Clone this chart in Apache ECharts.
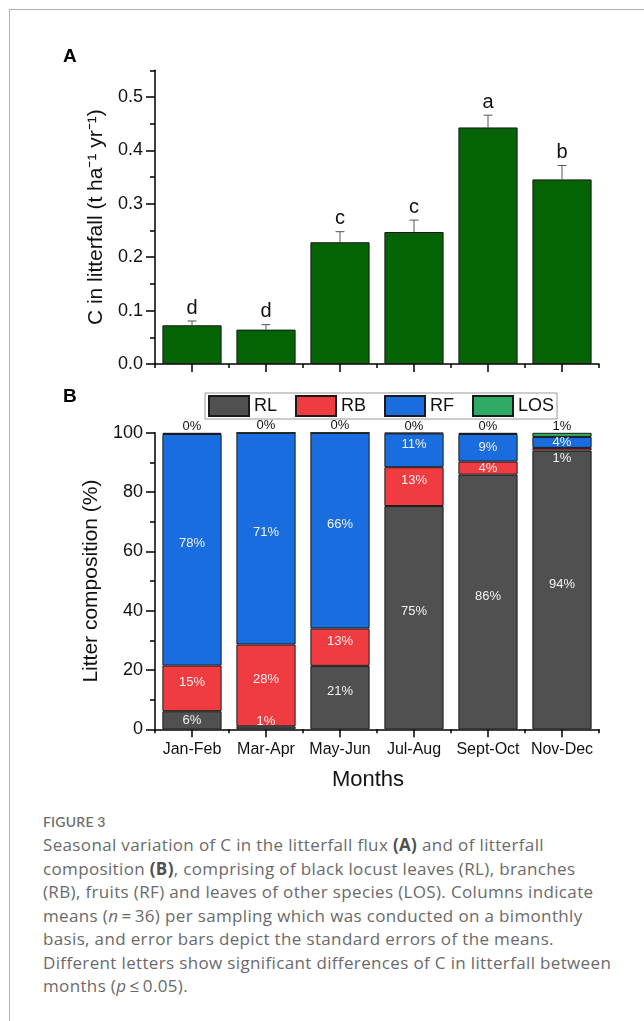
<!DOCTYPE html>
<html>
<head>
<meta charset="utf-8">
<script src="https://cdn.jsdelivr.net/npm/echarts@6/dist/echarts.min.js"></script>
<style>
  html, body { margin:0; padding:0; background:#fff; width:644px; height:1021px; overflow:hidden; }
  #frame { position:absolute; left:9px; top:9px; width:800px; height:1200px; border-left:1px solid #b0b0b0; border-top:1px solid #b0b0b0; }
  #chart { position:absolute; left:0; top:0; width:644px; height:800px; }
  #figlabel { position:absolute; left:43px; top:812px; font-family:Lato, "Open Sans", sans-serif; font-size:14px; line-height:20px; color:#707070; font-weight:600; letter-spacing:0.2px; }
  #caption { position:absolute; left:43px; top:833px; font-family:"Open Sans", Lato, sans-serif; font-size:17px; line-height:23.5px; color:#6a6a6a; white-space:nowrap; letter-spacing:0.35px; }
  #caption b { color:#505050; }
</style>
</head>
<body>
<div id="frame"></div>
<div id="chart"></div>
<div id="figlabel">FIGURE 3</div>
<div id="caption">
Seasonal variation of C in the litterfall flux <b>(A)</b> and of litterfall<br>
composition <b>(B)</b>, comprising of black locust leaves (RL), branches<br>
(RB), fruits (RF) and leaves of other species (LOS). Columns indicate<br>
means (<i>n</i>&#8201;=&#8201;36) per sampling which was conducted on a bimonthly<br>
basis, and error bars depict the standard errors of the means.<br>
Different letters show significant differences of C in litterfall between<br>
months (<i>p</i>&#8201;≤&#8201;0.05).
</div>
<script>
const categories = ['Jan-Feb', 'Mar-Apr', 'May-Jun', 'Jul-Aug', 'Sept-Oct', 'Nov-Dec'];
const carbonMean = [0.0725, 0.0644, 0.228, 0.2472, 0.443, 0.3457];
const carbonSE = [0.008, 0.0093, 0.0198, 0.0223, 0.0229, 0.026];
const sigLetters = ['d', 'd', 'c', 'c', 'a', 'b'];
const shareRL = [6.1, 1.0, 21.4, 75.3, 85.9, 94.0];
const shareRB = [15.4, 27.6, 12.6, 13.1, 4.4, 0.9];
const shareRF = [78.1, 71.4, 66.0, 11.4, 9.3, 3.7];
const shareLOS = [0.4, 0, 0, 0.2, 0.4, 1.4];
const yTicksA = [0, 0.1, 0.2, 0.3, 0.4, 0.5];
const yMinorTicksA = [0.05, 0.15, 0.25, 0.35, 0.45, 0.55];

const FONT = '"Liberation Sans", Arial, sans-serif';
const chart = echarts.init(document.getElementById('chart'), null, { renderer: 'canvas' });

const axisLine = { show: true, lineStyle: { color: '#000', width: 1.5 } };
const tickStyle = { color: '#000', width: 1.5 };

function majorX(grid, showLabels) {
  const ax = {
    type: 'category', gridIndex: grid, data: categories, position: 'bottom',
    axisLine: axisLine,
    axisTick: { show: true, alignWithLabel: true, length: 8, lineStyle: tickStyle },
    axisLabel: { show: showLabels, interval: 0, margin: 12, fontSize: 16, color: '#111', fontFamily: FONT },
    splitLine: { show: false }
  };
  if (showLabels) {
    ax.name = 'Months';
    ax.nameLocation = 'middle';
    ax.nameGap = 40;
    ax.nameTextStyle = { fontSize: 22, color: '#111', fontFamily: FONT, padding: [0, 18, 0, 0] };
  }
  return ax;
}
function minorX(grid) {
  return {
    type: 'category', gridIndex: grid, data: categories, position: 'bottom',
    axisLine: { show: false },
    axisTick: { show: true, alignWithLabel: false, interval: 0, length: 4, lineStyle: tickStyle },
    axisLabel: { show: false }, splitLine: { show: false }
  };
}

function compSeries(name, values, color, kind) {
  const data = values.map(function (v) {
    const item = { value: v };
    if (kind === 'RL' && v < 3) item.label = { position: 'top', distance: -2 };
    else if (kind === 'RB' && v < 3) item.label = { position: 'bottom', distance: 1 };
    else if (v > 10) item.label = { offset: [0, -6] };
    return item;
  });
  return {
    name: name, type: 'bar', stack: 'comp', xAxisIndex: 2, yAxisIndex: 2,
    barWidth: '80%', data: data,
    itemStyle: { color: color, borderColor: '#1a1a1a', borderWidth: 1 },
    label: kind === 'LOS'
      ? { show: true, position: 'top', distance: 0, color: '#111', fontSize: 13, fontFamily: FONT, formatter: function (p) { return Math.round(p.value) + '%'; } }
      : { show: true, position: 'inside', color: '#f2f2f2', fontSize: 13, fontFamily: FONT, formatter: function (p) { return Math.round(p.value) + '%'; } },
    emphasis: { disabled: true }
  };
}

const option = {
  animation: false,
  textStyle: { fontFamily: FONT },
  graphic: [
    { type: 'text', left: 63, top: 47, style: { text: 'A', font: 'bold 19px ' + FONT, fill: '#000' } },
    { type: 'text', left: 63, top: 387, style: { text: 'B', font: 'bold 19px ' + FONT, fill: '#000' } }
  ],
  legend: {
    data: ['RL', 'RB', 'RF', 'LOS'],
    left: 205, top: 393,
    orient: 'horizontal',
    icon: 'rect',
    padding: [2, 3],
    itemWidth: 40, itemHeight: 20, itemGap: 18,
    borderColor: '#999', borderWidth: 1,
    textStyle: { fontSize: 18, color: '#111', fontFamily: FONT },
    selectedMode: false
  },
  grid: [
    { left: 155, top: 70.3, width: 444, height: 293.7 },
    { left: 155, top: 432.8, width: 444, height: 296.5 }
  ],
  xAxis: [majorX(0, false), minorX(0), majorX(1, true), minorX(1)],
  yAxis: [
    {
      type: 'value', gridIndex: 0, min: 0, max: 0.55, interval: 0.05, position: 'left',
      name: 'C in litterfall (t ha\u207B\u00B9 yr\u207B\u00B9)', nameLocation: 'middle', nameRotate: 90, nameGap: 36,
      nameTextStyle: { fontSize: 21, color: '#111', fontFamily: FONT },
      axisLine: axisLine,
      axisTick: { show: true, length: 9, lineStyle: tickStyle, customValues: yTicksA },
      axisLabel: { customValues: yTicksA, margin: 12, fontSize: 18, color: '#111', fontFamily: FONT,
        formatter: function (v) { return Math.abs(v * 10 - Math.round(v * 10)) < 1e-6 ? v.toFixed(1) : ''; } },
      splitLine: { show: false }
    },
    {
      type: 'value', gridIndex: 0, min: 0, max: 0.55, interval: 0.05, position: 'left',
      axisLine: { show: false },
      axisTick: { show: true, length: 5, lineStyle: tickStyle, customValues: yMinorTicksA },
      axisLabel: { show: false }, splitLine: { show: false }
    },
    {
      type: 'value', gridIndex: 1, min: 0, max: 100, interval: 20, position: 'left',
      name: 'Litter composition (%)', nameLocation: 'middle', nameRotate: 90, nameGap: 44,
      nameTextStyle: { fontSize: 21, color: '#111', fontFamily: FONT },
      axisLine: axisLine,
      axisTick: { show: true, length: 9, lineStyle: tickStyle },
      minorTick: { show: true, splitNumber: 2, length: 5, lineStyle: tickStyle },
      axisLabel: { margin: 12, fontSize: 18, color: '#111', fontFamily: FONT },
      splitLine: { show: false }, minorSplitLine: { show: false }
    }
  ],
  series: [
    {
      name: 'C', type: 'bar', xAxisIndex: 0, yAxisIndex: 0, barWidth: '80%',
      data: carbonMean,
      itemStyle: { color: '#046304', borderColor: '#1a1a1a', borderWidth: 1 },
      emphasis: { disabled: true }, z: 2
    },
    {
      name: 'SE', type: 'custom', xAxisIndex: 0, yAxisIndex: 0, z: 3,
      data: carbonMean.map(function (m, i) { return [i, m, carbonSE[i]]; }),
      renderItem: function (params, api) {
        const i = api.value(0), m = api.value(1), se = api.value(2);
        const p0 = api.coord([i, m]);
        const p1 = api.coord([i, m + se]);
        const hw = 4.5;
        return {
          type: 'group',
          children: [
            { type: 'line', shape: { x1: p0[0], y1: p0[1], x2: p1[0], y2: p1[1] }, style: { stroke: '#555', lineWidth: 1 } },
            { type: 'line', shape: { x1: p1[0] - hw, y1: p1[1], x2: p1[0] + hw, y2: p1[1] }, style: { stroke: '#555', lineWidth: 1 } },
            { type: 'text', x: p1[0], y: p1[1] - 3, style: { text: sigLetters[params.dataIndex], font: '20px ' + FONT, fill: '#111', align: 'center', verticalAlign: 'bottom' } }
          ]
        };
      }
    },
    compSeries('RL', shareRL, '#505050', 'RL'),
    compSeries('RB', shareRB, '#f03c40', 'RB'),
    compSeries('RF', shareRF, '#1a6ddf', 'RF'),
    compSeries('LOS', shareLOS, '#2faa64', 'LOS')
  ]
};
chart.setOption(option);
</script>
</body>
</html>
